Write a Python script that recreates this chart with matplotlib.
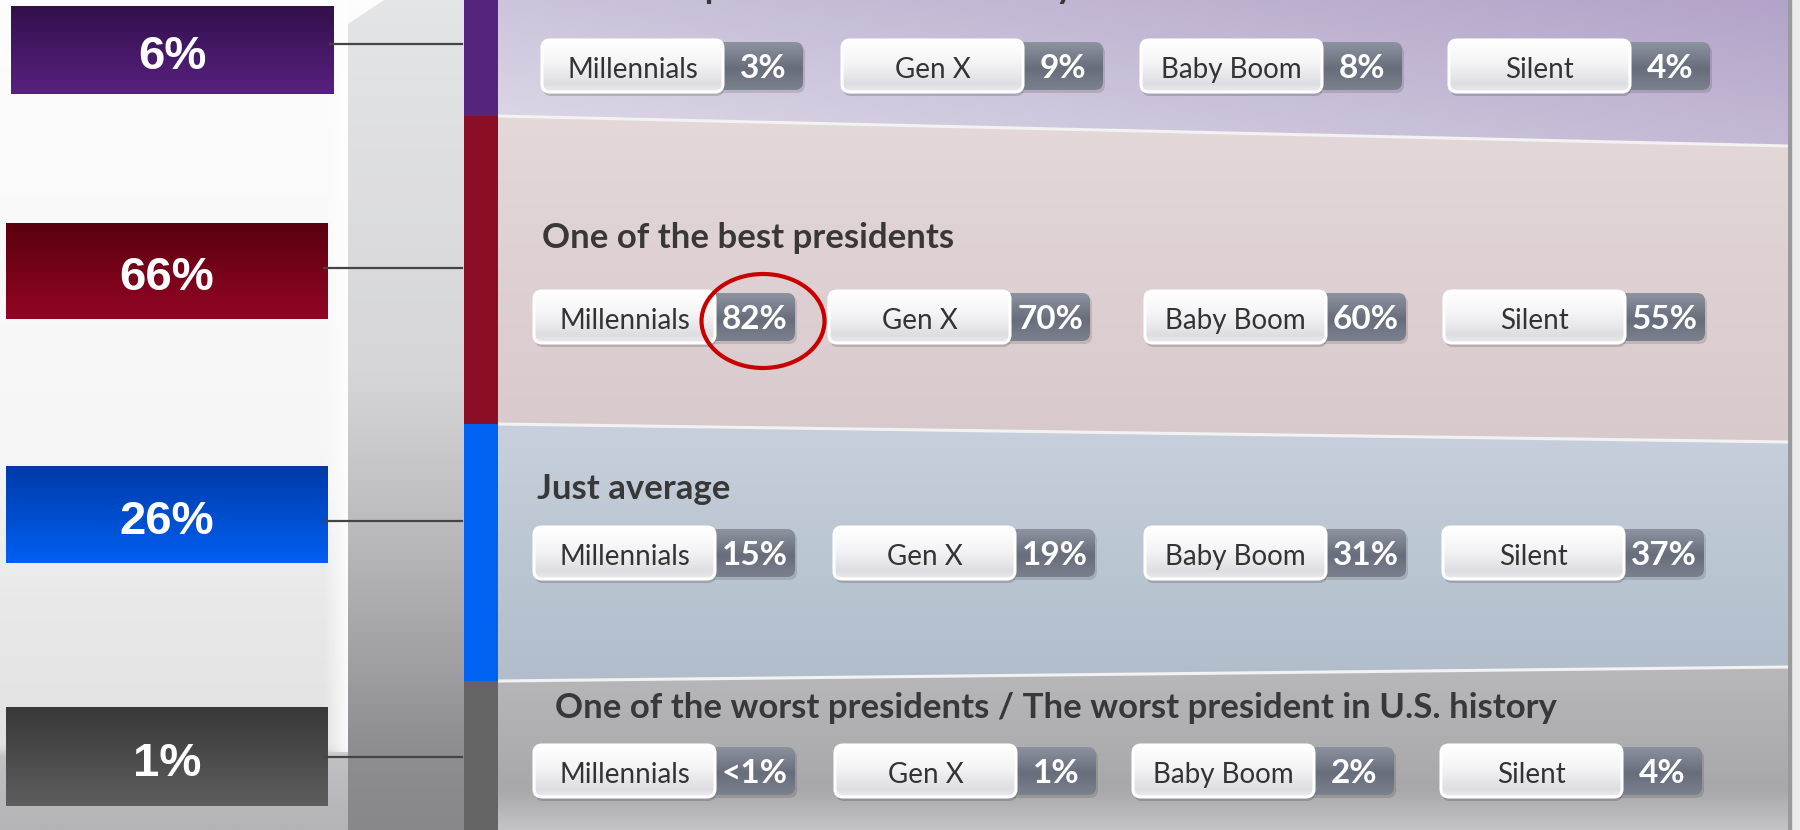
import numpy as np
import matplotlib
matplotlib.use("Agg")
import matplotlib.pyplot as plt
from matplotlib.patches import FancyBboxPatch, Polygon, Rectangle, Ellipse

# ---------------- data ----------------
headings = ["The best president in U.S. history",
            "One of the best presidents",
            "Just average",
            "One of the worst presidents / The worst president in U.S. history"]
overall = ["6%", "66%", "26%", "1%"]
generations = ["Millennials", "Gen X", "Baby Boom", "Silent"]
millennials = ["3%", "82%", "15%", "<1%"]
gen_x = ["9%", "70%", "19%", "1%"]
baby_boom = ["8%", "60%", "31%", "2%"]
silent = ["4%", "55%", "37%", "4%"]
gen_values = [millennials, gen_x, baby_boom, silent]
highlight = (1, 0)  # row, generation index circled

# ---------------- layout / style ----------------
W, H = 1800, 830
edges_left = [0, 116, 424, 681, 830]
edges_right = [0, 146, 442, 667, 830]
PX0, PX1 = 498, 1788
pill_x = [[542, 842, 1141, 1449], [534, 829, 1145, 1444],
          [534, 834, 1145, 1443], [534, 835, 1133, 1441]]
pill_yc = [66, 317, 553, 771]
PILL_W, PILL_H, GRAY_W = 181, 52, 80
box_x = [(11, 334), (6, 328), (6, 328), (6, 328)]
box_y = [(6, 94), (223, 319), (466, 563), (708, 806)]
line_y = [44, 268, 521, 757]
box_cols = [("#32104B", "#582180"), ("#5A000F", "#930525"),
            ("#003AA8", "#0060F2"), ("#383838", "#5E5E5E")]
bar_cols = ["#55247D", "#8A0E26", "#0062F0", "#646464"]
panel_cols = [None, ((228, 216, 216), (216, 201, 205)),
              ((199, 208, 220), (177, 189, 203)),
              ((184, 184, 186), (168, 168, 171))]
head_pos = [(562, -2), (542, 248), (537, 499), (555, 718)]
FONT = ["Lato", "DejaVu Sans"]

fig = plt.figure(figsize=(18, 8.3), dpi=100)
ax = fig.add_axes([0, 0, 1, 1])
ax.axis("off")


def hexrgb(c):
    c = c.lstrip("#")
    return np.array([int(c[i:i + 2], 16) for i in (0, 2, 4)], float)


def vgrad(x0, x1, y0, y1, stops, z=1, clip=None):
    n = 256
    t = np.linspace(0, 1, n)
    pos = [s[0] for s in stops]
    cols = np.array([np.array(s[1], float) for s in stops])
    img = np.stack([np.interp(t, pos, cols[:, k]) for k in range(3)], axis=-1) / 255.0
    img = img[:, None, :]
    im = ax.imshow(img, extent=(x0, x1, y1, y0), aspect="auto", zorder=z,
                   interpolation="bilinear")
    if clip is not None:
        im.set_clip_path(clip)
    return im


# background
vgrad(0, W, 0, H, [(0, (253, 253, 253)), (0.55, (246, 246, 246)),
                   (0.72, (233, 233, 234)), (0.9, (226, 226, 227)),
                   (0.915, (192, 192, 194)), (1, (180, 180, 182))], z=0)
# right margin
ax.add_patch(Rectangle((PX1, 0), W - PX1, H, color="#EBEBEB", zorder=0.5))
ax.add_patch(Rectangle((PX1, 0), 3, H, color="#9A9A9C", zorder=0.6))

# highlight strip left of the pillar
strip = np.ones((1, 32, 4))
strip[..., 3] = np.linspace(0.0, 0.85, 32)
ax.imshow(strip, extent=(323, 348, 752, 0), aspect="auto", zorder=0.7,
          interpolation="bilinear")

# pillar
pil = Polygon([(348, 24), (384, 0), (464, 0), (464, H), (348, H)],
              closed=True, fc="none", ec="none", zorder=1)
ax.add_patch(pil)
vgrad(348, 464, 0, H, [(0, (228, 229, 231)), (0.45, (214, 214, 216)),
                       (0.62, (190, 190, 192)), (0.8, (160, 160, 163)),
                       (0.9, (142, 142, 146)), (1, (136, 136, 140))],
      z=1, clip=pil)

# panels
for i in range(4):
    poly = Polygon([(PX0, edges_left[i]), (PX1, edges_right[i]),
                    (PX1, edges_right[i + 1]), (PX0, edges_left[i + 1])],
                   closed=True, fc="none", ec="none", zorder=2)
    ax.add_patch(poly)
    y0 = min(edges_left[i], edges_right[i])
    y1 = max(edges_left[i + 1], edges_right[i + 1])
    if i == 0:
        nx, ny = 200, 60
        xx = np.linspace(0, 1, nx)[None, :]
        yy = np.linspace(0, 1, ny)[:, None]
        t = np.clip(0.6 * xx + 0.4 * (1 - yy), 0, 1)
        A = np.array([222, 218, 232]) / 255.0
        B = np.array([178, 163, 200]) / 255.0
        img = (1 - t)[..., None] * A + t[..., None] * B
        im = ax.imshow(img, extent=(PX0, PX1, y1, y0), aspect="auto",
                       zorder=2, interpolation="bilinear")
        im.set_clip_path(poly)
    else:
        c0, c1 = panel_cols[i]
        stops = [(0, c0), (1, c1)]
        if i == 3:
            stops = [(0, c0), (0.75, c1), (1, (196, 196, 198))]
        vgrad(PX0, PX1, y0, y1, stops, z=2, clip=poly)
    if i > 0:
        ax.plot([PX0, PX1], [edges_left[i], edges_right[i]], color="#F2F2F2",
                lw=2.2, zorder=3, solid_capstyle="butt")
    ax.add_patch(Rectangle((464, edges_left[i]), PX0 - 464,
                           edges_left[i + 1] - edges_left[i],
                           color=bar_cols[i], zorder=4, lw=0))

# left boxes + connectors
for i in range(4):
    bx0, bx1 = box_x[i]
    by0, by1 = box_y[i]
    vgrad(bx0, bx1, by0, by1, [(0, hexrgb(box_cols[i][0])),
                               (1, hexrgb(box_cols[i][1]))], z=5)
    ax.plot([bx1 - 4, 462], [line_y[i], line_y[i]], color="#444444", lw=1.6,
            zorder=6)
    ax.text((bx0 + bx1) / 2, (by0 + by1) / 2 + 7, overall[i], color="white",
            fontsize=34, fontweight="bold", family="Liberation Sans",
            ha="center", va="center", zorder=7)

# headings
for i in range(4):
    hx, hy = head_pos[i]
    ax.text(hx, hy, headings[i], fontsize=25, fontweight="bold", family=FONT,
            color="#383838", ha="left", va="baseline", zorder=8)

# pills
R = 8
for r in range(4):
    yc = pill_yc[r]
    for g in range(4):
        x0 = pill_x[r][g]
        y0 = yc - PILL_H / 2
        gx0 = x0 + PILL_W - 20
        gx1 = x0 + PILL_W + GRAY_W
        ax.add_patch(FancyBboxPatch((gx0 + 2, y0 + 5), gx1 - gx0, PILL_H - 4,
                                    boxstyle=f"round,pad=0,rounding_size={R}",
                                    fc=(0, 0, 0, 0.12), ec="none", zorder=8.5))
        gp = FancyBboxPatch((gx0, y0 + 2), gx1 - gx0, PILL_H - 4,
                            boxstyle=f"round,pad=0,rounding_size={R}",
                            fc="none", ec="none", zorder=9)
        ax.add_patch(gp)
        vgrad(gx0, gx1, y0 + 2, y0 + PILL_H - 2,
              [(0, (142, 147, 160)), (0.55, (104, 109, 124)),
               (1, (124, 129, 142))], z=9, clip=gp)
        ax.add_patch(FancyBboxPatch((x0 + 1, y0 + 4), PILL_W, PILL_H,
                                    boxstyle=f"round,pad=0,rounding_size={R}",
                                    fc=(0, 0, 0, 0.16), ec="none", zorder=9.5))
        wp = FancyBboxPatch((x0, y0), PILL_W, PILL_H,
                            boxstyle=f"round,pad=0,rounding_size={R}",
                            fc="none", ec="none", zorder=10)
        ax.add_patch(wp)
        vgrad(x0, x0 + PILL_W, y0, y0 + PILL_H,
              [(0, (255, 255, 255)), (0.45, (244, 244, 246)),
               (0.85, (222, 222, 226)), (1, (236, 236, 238))], z=10, clip=wp)
        ax.add_patch(FancyBboxPatch((x0, y0), PILL_W, PILL_H,
                                    boxstyle=f"round,pad=0,rounding_size={R}",
                                    fc="none", ec="white", lw=2.2, zorder=10.5))
        ax.text(x0 + PILL_W / 2, yc + 4, generations[g], fontsize=20,
                family=FONT, color="#333333", ha="center", va="center",
                zorder=11)
        ax.text((x0 + PILL_W + gx1) / 2, yc + 2, gen_values[g][r],
                fontsize=24, fontweight="bold", family=FONT, color="white",
                ha="center", va="center", zorder=11)

# red highlight circle
hr, hg = highlight
hx = pill_x[hr][hg] + PILL_W + GRAY_W / 2 + 8
ax.add_patch(Ellipse((hx, pill_yc[hr] + 4), 123, 94, fill=False,
                     ec="#C80000", lw=3, zorder=12))

ax.set_xlim(0, W)
ax.set_ylim(H, 0)
fig.savefig("out.png", dpi=100)
